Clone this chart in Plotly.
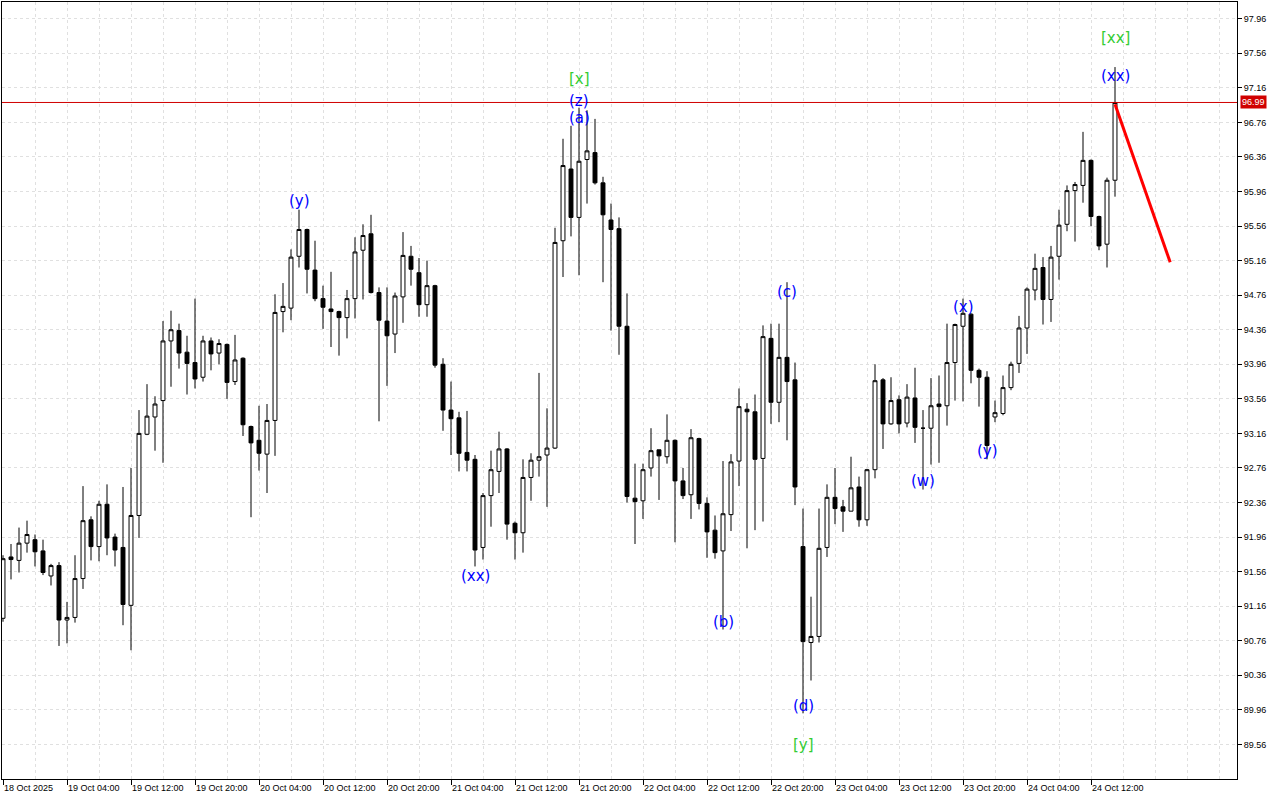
import plotly.graph_objects as go

# ---------------- data (hourly candles, index 0 = 18 Oct 20:00) ----------------
opens = [91.02, 91.73, 91.69, 91.89, 91.93, 91.80, 91.51, 91.63, 91.00, 91.03,
         91.48, 92.16, 91.85, 92.34, 91.96, 91.84, 91.17, 92.21, 93.15, 93.35,
         93.54, 94.23, 94.35, 94.10, 93.98, 93.81, 94.23, 94.09, 94.19, 93.76,
         94.03, 93.24, 93.08, 92.92, 93.31, 94.57, 94.61, 95.21, 95.52, 95.05,
         94.72, 94.60, 94.57, 94.50, 94.72, 95.28, 95.47, 94.79, 94.46, 94.31,
         94.74, 95.21, 95.02, 94.65, 94.87, 93.96, 93.43, 93.34, 92.94, 92.86,
         91.84, 92.44, 92.72, 92.98, 92.12, 92.01, 92.65, 92.85, 92.91, 92.99,
         95.39, 96.22, 95.66, 96.33, 96.41, 96.06, 95.63, 95.53, 94.40, 92.41,
         92.38, 92.76, 92.97, 92.89, 93.08, 92.61, 92.45, 93.10, 92.35, 92.04,
         91.80, 92.22, 92.84, 93.44, 93.41, 92.87, 94.26, 93.52, 94.04, 93.78,
         91.85, 90.74, 90.81, 91.84, 92.42, 92.31, 92.26, 92.54, 92.16, 92.74,
         93.78, 93.27, 93.55, 93.28, 93.57, 93.22, 93.22, 93.50, 93.48, 93.98,
         94.40, 94.54, 93.89, 93.81, 93.35, 93.39, 93.69, 93.97, 94.38, 94.82,
         95.08, 94.71, 95.21, 95.58, 95.97, 96.03, 96.32, 95.67, 95.35, 96.09]

highs = [91.75, 91.88, 92.07, 92.15, 91.99, 91.93, 91.65, 91.67, 91.21, 91.75,
         92.55, 92.20, 92.38, 92.57, 92.00, 92.54, 92.76, 93.43, 93.73, 93.59,
         94.46, 94.58, 94.43, 94.29, 94.72, 94.29, 94.27, 94.25, 94.20, 94.30,
         94.04, 93.25, 93.48, 93.50, 94.77, 94.90, 95.29, 95.75, 95.53, 95.39,
         94.87, 95.03, 94.58, 94.82, 95.43, 95.58, 95.69, 94.85, 94.85, 94.79,
         95.49, 95.33, 95.19, 95.16, 94.88, 94.03, 93.76, 93.41, 93.42, 92.91,
         92.47, 92.96, 93.18, 92.99, 92.14, 92.86, 92.93, 93.86, 93.45, 95.54,
         96.57, 96.72, 96.93, 96.90, 96.80, 96.13, 95.82, 95.66, 94.78, 92.81,
         92.81, 93.22, 92.97, 93.38, 93.09, 92.76, 93.21, 93.11, 92.42, 92.21,
         92.84, 92.92, 93.68, 93.51, 93.61, 94.41, 94.43, 94.43, 94.91, 93.98,
         92.29, 91.27, 92.29, 92.57, 92.76, 92.39, 92.89, 92.66, 92.75, 93.96,
         93.80, 93.81, 93.60, 93.73, 93.92, 93.43, 93.80, 93.83, 94.43, 94.43,
         94.72, 94.55, 93.91, 93.88, 93.54, 93.83, 93.99, 94.52, 94.85, 95.24,
         95.20, 95.33, 95.75, 96.03, 96.07, 96.65, 96.33, 95.68, 96.12, 97.40]

lows = [90.98, 91.47, 91.55, 91.78, 91.62, 91.52, 91.40, 90.70, 90.73, 90.97,
        91.36, 91.69, 91.68, 91.75, 91.62, 90.94, 90.65, 91.95, 93.14, 92.96,
        92.82, 93.70, 93.91, 93.61, 93.68, 93.76, 93.89, 93.96, 93.56, 93.72,
        93.13, 92.19, 92.73, 92.47, 92.90, 94.33, 94.47, 95.08, 94.78, 94.69,
        94.37, 94.16, 94.06, 94.26, 94.49, 94.71, 94.78, 93.30, 93.71, 94.09,
        94.44, 94.87, 94.51, 94.51, 93.92, 93.19, 92.91, 92.72, 92.72, 91.62,
        91.70, 92.08, 92.47, 91.93, 91.70, 91.78, 92.38, 92.66, 92.31, 92.98,
        94.97, 95.44, 94.99, 95.82, 96.04, 94.91, 94.35, 94.07, 92.36, 91.88,
        92.17, 92.66, 92.39, 92.81, 91.90, 92.40, 92.17, 92.28, 91.72, 91.71,
        90.89, 92.03, 92.55, 91.83, 92.04, 92.14, 93.27, 93.29, 93.08, 92.33,
        89.92, 90.30, 90.74, 91.73, 92.11, 92.02, 92.26, 92.08, 92.09, 92.64,
        92.98, 93.26, 93.16, 93.23, 93.05, 92.51, 92.80, 92.82, 93.25, 93.54,
        93.53, 93.74, 93.47, 92.86, 93.29, 93.37, 93.66, 93.86, 94.08, 94.70,
        94.42, 94.45, 94.94, 95.50, 95.38, 95.83, 95.56, 95.28, 95.08, 95.90]

closes = [91.71, 91.70, 91.89, 91.99, 91.79, 91.55, 91.63, 91.00, 91.03, 91.48,
          92.15, 91.85, 92.34, 91.95, 91.81, 91.18, 92.21, 93.16, 93.36, 93.50,
          94.23, 94.36, 94.09, 93.97, 93.79, 94.23, 94.08, 94.20, 93.75, 94.01,
          93.26, 93.05, 92.93, 93.31, 94.56, 94.63, 95.20, 95.52, 95.06, 94.72,
          94.62, 94.57, 94.50, 94.72, 95.26, 95.45, 94.79, 94.47, 94.29, 94.75,
          95.22, 95.06, 94.65, 94.87, 93.95, 93.43, 93.33, 92.93, 92.85, 91.81,
          92.44, 92.74, 92.98, 92.11, 92.01, 92.65, 92.85, 92.89, 92.99, 95.37,
          96.26, 95.66, 96.31, 96.43, 96.06, 95.69, 95.52, 94.40, 92.43, 92.37,
          92.74, 92.96, 92.90, 93.08, 92.61, 92.44, 93.11, 92.35, 92.02, 91.78,
          92.23, 92.83, 93.47, 93.41, 92.86, 94.28, 93.52, 94.04, 93.76, 92.54,
          90.75, 90.81, 91.83, 92.42, 92.29, 92.26, 92.53, 92.16, 92.74, 93.77,
          93.27, 93.54, 93.27, 93.58, 93.23, 93.22, 93.48, 93.47, 93.98, 94.42,
          94.55, 93.89, 93.81, 93.02, 93.40, 93.69, 93.96, 94.38, 94.83, 95.07,
          94.71, 95.20, 95.57, 95.97, 96.04, 96.32, 95.67, 95.33, 96.09, 96.99]

time_tick_idx = [0, 8, 16, 24, 32, 40, 48, 56, 64, 72, 80, 88, 96, 104, 112, 120, 128, 136]
time_tick_text = ["18 Oct 2025", "19 Oct 04:00", "19 Oct 12:00", "19 Oct 20:00",
                  "20 Oct 04:00", "20 Oct 12:00", "20 Oct 20:00", "21 Oct 04:00",
                  "21 Oct 12:00", "21 Oct 20:00", "22 Oct 04:00", "22 Oct 12:00",
                  "22 Oct 20:00", "23 Oct 04:00", "23 Oct 12:00", "23 Oct 20:00",
                  "24 Oct 04:00", "24 Oct 12:00"]

price_ticks = [89.56, 89.96, 90.36, 90.76, 91.16, 91.56, 91.96, 92.36, 92.76, 93.16, 93.56,
               93.96, 94.36, 94.76, 95.16, 95.56, 95.96, 96.36, 96.76, 97.16, 97.56, 97.96]

current_price = 96.99

# wave labels: text, candle index, price position, colour key
wave_text = ["(y)", "(xx)", "[x]", "(z)", "(a)", "(b)", "(c)", "(d)", "[y]",
             "(w)", "(x)", "(y)", "[xx]", "(xx)"]
wave_idx = [37, 59, 72, 72, 72, 90, 98, 100, 100, 115, 120, 123, 139, 139]
wave_price = [95.85, 91.51, 97.26, 97.01, 96.81, 90.98, 94.80, 90.01, 89.55,
              92.61, 94.62, 92.96, 97.74, 97.30]
wave_kind = ["minor", "minor", "major", "minor", "minor", "minor", "minor", "minor",
             "major", "minor", "minor", "minor", "major", "minor"]

# forecast arrow (red line)
forecast_idx = [139, 145.9]
forecast_price = [96.97, 95.14]

# ---------------- figure ----------------
x = list(range(len(opens)))

fig = go.Figure()
fig.add_trace(go.Candlestick(
    x=x, open=opens, high=highs, low=lows, close=closes,
    increasing=dict(fillcolor="white", line=dict(color="black", width=1)),
    decreasing=dict(fillcolor="black", line=dict(color="black", width=1)),
    whiskerwidth=0, showlegend=False, hoverinfo="skip",
))

fig.add_trace(go.Scatter(
    x=forecast_idx, y=forecast_price, mode="lines",
    line=dict(color="#ff0000", width=3), showlegend=False, hoverinfo="skip",
))

# current price line
fig.add_shape(type="line", xref="paper", x0=0, x1=1, yref="y",
              y0=current_price, y1=current_price,
              line=dict(color="#d00000", width=1))

colors = {"minor": "#0000ff", "major": "#33cc33"}
for t, i, p, k in zip(wave_text, wave_idx, wave_price, wave_kind):
    fig.add_annotation(x=i, y=p, text=t, showarrow=False,
                       font=dict(family="DejaVu Sans", size=15, color=colors[k]),
                       xanchor="center", yanchor="middle")

fig.add_annotation(xref="paper", x=1, y=current_price, yref="y",
                   text="%.2f" % current_price, showarrow=False,
                   xanchor="left", yanchor="middle", xshift=3,
                   bgcolor="#d00000", borderpad=1,
                   font=dict(family="Liberation Sans, Arial", size=9, color="white"))

grid = "#e0e0e0"
fig.update_layout(
    width=1280, height=800,
    margin=dict(l=2, r=43, t=2, b=21),
    paper_bgcolor="white", plot_bgcolor="white",
    font=dict(family="Liberation Sans, Arial", size=9, color="black"),
    showlegend=False,
    xaxis=dict(
        range=[-0.125, 154.25], rangeslider=dict(visible=False),
        tickmode="array", tickvals=time_tick_idx, ticktext=time_tick_text,
        ticks="outside", ticklen=5, tickcolor="black",
        ticklabelposition="outside right",
        showgrid=True, gridcolor=grid, griddash="3px,3px", gridwidth=1,
        minor=dict(tickmode="linear", tick0=0, dtick=4, showgrid=True,
                   gridcolor=grid, griddash="3px,3px", ticks=""),
        showline=True, linecolor="black", linewidth=1, mirror=True,
        zeroline=False, tickfont=dict(size=9),
    ),
    yaxis=dict(
        side="right", range=[89.16, 98.153],
        tickmode="array", tickvals=price_ticks,
        ticktext=["%.2f" % v for v in price_ticks],
        ticks="outside", ticklen=4, tickcolor="black",
        showgrid=True, gridcolor=grid, griddash="3px,3px", gridwidth=1,
        showline=True, linecolor="black", linewidth=1, mirror=True,
        zeroline=False, tickfont=dict(size=9),
    ),
)

fig.write_html("out.html",
               config={"displayModeBar": False},
               post_script="document.body.style.margin='0';document.body.style.overflow='hidden';")
